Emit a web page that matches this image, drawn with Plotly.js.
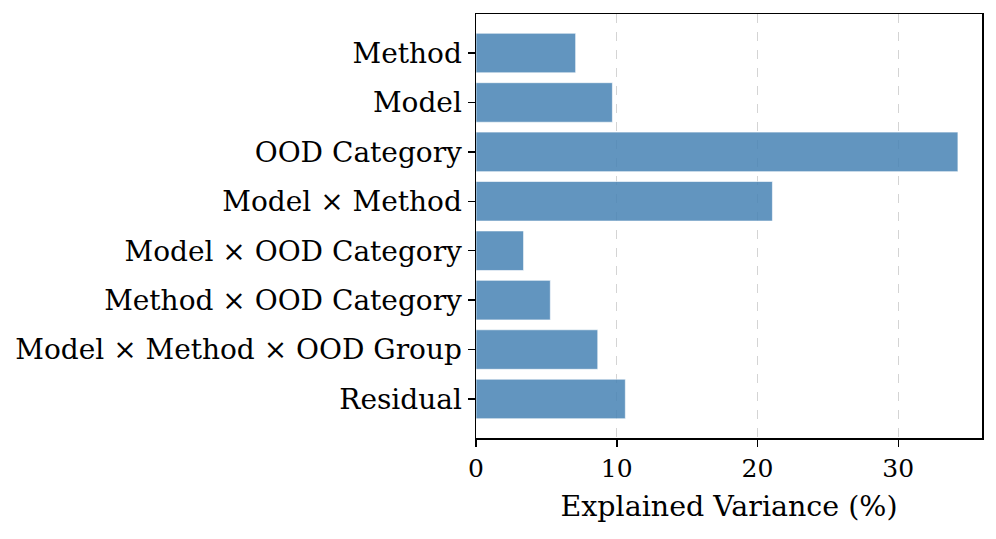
<!DOCTYPE html>
<html>
<head>
<meta charset="utf-8">
<script src="https://cdn.plot.ly/plotly-3.0.1.min.js"></script>
<style>body{margin:0;padding:0;background:#fff;}#chart{width:996px;height:539px;}</style>
</head>
<body>
<div id="chart"></div>
<script>
const categories = ["Method", "Model", "OOD Category", "Model × Method", "Model × OOD Category", "Method × OOD Category", "Model × Method × OOD Group", "Residual"];
const values = [7.08, 9.69, 34.24, 21.06, 3.38, 5.28, 8.65, 10.61];
const xTicks = [0, 10, 20, 30];

const font = "'DejaVu Serif', serif";
const trace = {
  type: 'bar',
  orientation: 'h',
  y: categories.map((c, i) => i),
  x: values,
  width: 0.8,
  marker: {color: 'rgba(70,130,180,0.85)', line: {color: 'rgba(255,255,255,0.6)', width: 1}},
  hoverinfo: 'x+y'
};
const layout = {
  width: 996, height: 539,
  margin: {l: 476, r: 14, t: 14, b: 101},
  paper_bgcolor: '#fff', plot_bgcolor: '#fff',
  showlegend: false,
  bargap: 0.2,
  font: {family: font, color: '#000', size: 27},
  xaxis: {
    range: [0, 35.95],
    tickvals: xTicks, ticktext: xTicks.map(String),
    showgrid: true, gridcolor: 'rgba(170,170,170,0.5)', griddash: 'dash', gridwidth: 1,
    zeroline: false,
    showline: true, linecolor: '#000', linewidth: 1.5, mirror: true,
    ticks: 'outside', ticklen: 7, tickwidth: 1.5, tickcolor: '#000',
    tickfont: {family: font, size: 25},
    title: {text: 'Explained Variance (%)', font: {family: font, size: 28.5}, standoff: 14}
  },
  yaxis: {
    range: [7.79, -0.79],
    tickvals: categories.map((c, i) => i), ticktext: categories,
    showgrid: false, zeroline: false,
    showline: true, linecolor: '#000', linewidth: 1.5, mirror: true,
    ticks: 'outside', ticklen: 7, tickwidth: 1.5, tickcolor: '#000',
    tickfont: {family: font, size: 28}
  }
};
Plotly.newPlot('chart', [trace], layout, {displayModeBar: false, staticPlot: true});
</script>
</body>
</html>
